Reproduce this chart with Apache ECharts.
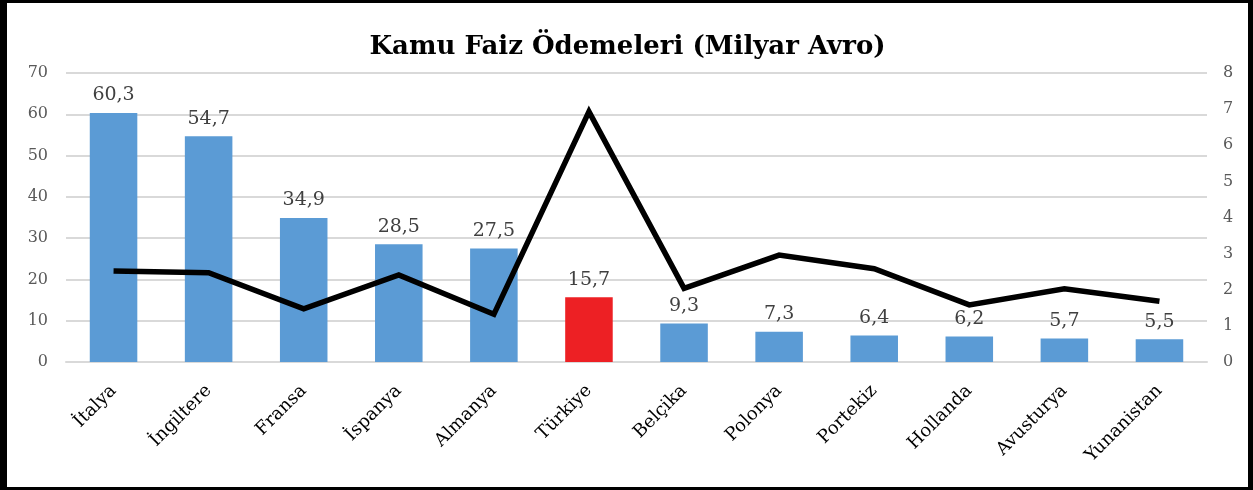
<!DOCTYPE html>
<html>
<head>
<meta charset="utf-8">
<script src="https://cdn.jsdelivr.net/npm/echarts@6/dist/echarts.min.js"></script>
<style>
  html, body { margin: 0; padding: 0; background: #fff; }
  #frame {
    box-sizing: border-box;
    width: 1253px;
    height: 490px;
    border-top: 3px solid #000;
    border-left: 7px solid #000;
    border-right: 5px solid #000;
    border-bottom: 3px solid #000;
  }
  #chart { width: 100%; height: 100%; }
</style>
</head>
<body>
<div id="frame"><div id="chart"></div></div>
<script>
const countries = ["İtalya", "İngiltere", "Fransa", "İspanya", "Almanya", "Türkiye", "Belçika", "Polonya", "Portekiz", "Hollanda", "Avusturya", "Yunanistan"];
const payments = [60.3, 54.7, 34.9, 28.5, 27.5, 15.7, 9.3, 7.3, 6.4, 6.2, 5.7, 5.5];
const rightValues = [2.52, 2.47, 1.47, 2.41, 1.32, 6.93, 2.04, 2.96, 2.58, 1.58, 2.03, 1.68];
const leftTicks = [0, 10, 20, 30, 40, 50, 60, 70];
const rightTicks = [0, 1, 2, 3, 4, 5, 6, 7, 8];

const highlight = "Türkiye";
const font = "DejaVu Serif";

const chart = echarts.init(document.getElementById("chart"));

const axisCommon = {
  type: "value",
  axisTick: { show: false },
  axisLine: { show: false },
  axisLabel: { color: "#595959", fontFamily: font, fontSize: 16 },
};

chart.setOption({
  animation: false,
  title: {
    text: "Kamu Faiz Ödemeleri (Milyar Avro)",
    left: "center",
    top: 26,
    textStyle: { fontFamily: font, fontWeight: "bold", fontSize: 26, color: "#000" },
  },
  grid: { left: 59, right: 41, top: 70, bottom: 125 },
  xAxis: {
    type: "category",
    data: countries,
    axisTick: { show: false },
    axisLine: { lineStyle: { color: "#D9D9D9", width: 2 } },
    axisLabel: {
      rotate: 45,
      interval: 0,
      margin: 26,
      color: "#000",
      fontFamily: font,
      fontSize: 18,
    },
  },
  yAxis: [
    {
      ...axisCommon,
      min: leftTicks[0],
      max: leftTicks[leftTicks.length - 1],
      interval: 10,
      splitLine: { lineStyle: { color: "#D9D9D9", width: 2 } },
      axisLabel: { ...axisCommon.axisLabel, margin: 18 },
    },
    {
      ...axisCommon,
      min: rightTicks[0],
      max: rightTicks[rightTicks.length - 1],
      interval: 1,
      splitLine: { show: false },
      axisLabel: { ...axisCommon.axisLabel, margin: 16 },
    },
  ],
  series: [
    {
      type: "bar",
      yAxisIndex: 0,
      barWidth: "50%",
      data: payments.map((v, i) => ({
        value: v,
        itemStyle: { color: countries[i] === highlight ? "#ED2024" : "#5B9BD5" },
      })),
      label: {
        show: true,
        position: "top",
        distance: 8,
        color: "#404040",
        fontFamily: font,
        fontSize: 19,
        formatter: (p) => String(p.value).replace(".", ","),
      },
    },
    {
      type: "line",
      yAxisIndex: 1,
      data: rightValues,
      showSymbol: false,
      lineStyle: { color: "#000", width: 5.5, join: "miter" },
      z: 3,
    },
  ],
});
</script>
</body>
</html>
